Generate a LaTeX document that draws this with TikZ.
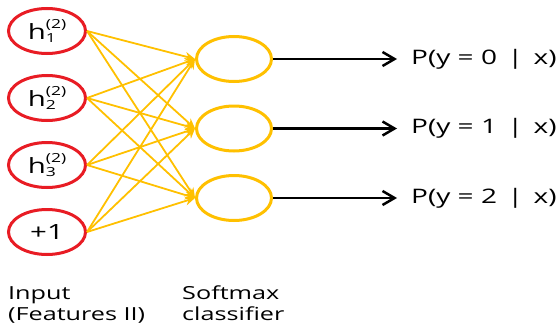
\documentclass[tikz,border=0pt]{standalone}
\usepackage{fontspec}
\setmainfont[FakeStretch=1.4]{Open Sans}
\usetikzlibrary{positioning, arrows.meta, shapes.geometric}
\definecolor{nodered}{RGB}{232,28,36}
\definecolor{softyellow}{RGB}{255,192,0}
\newcommand{\hunit}[1]{h\rlap{\raisebox{-3pt}{\fontsize{12.5}{12.5}\selectfont #1}}\raisebox{11.5pt}{\fontsize{12.5}{12.5}\selectfont (2)}}
\begin{document}
\begin{tikzpicture}[x=1pt, y=-1pt,
    inunit/.style={ellipse, draw=nodered, line width=3pt, minimum width=77pt, minimum height=45pt, inner sep=0pt, font=\fontsize{21}{21}\selectfont},
    outunit/.style={ellipse, draw=softyellow, line width=3pt, minimum width=75pt, minimum height=45pt, inner sep=0pt},
    weight/.style={draw=softyellow, line width=1.8pt, -{Stealth[length=10pt, width=9pt]}},
    result/.style={draw=black, line width=2.5pt, -{Straight Barb[length=12pt, width=14pt]}, shorten >=14pt},
    problabel/.style={inner sep=0pt, font=\fontsize{20}{20}\selectfont},
    caption/.style={align=left, inner sep=0pt, anchor=north west, font=\fontsize{18}{21}\selectfont}
]
\useasboundingbox (0,0) rectangle (556,329);

% input layer
\node[inunit] (i1) at (47,31) {\hunit{1}};
\node[inunit] (i2) [below = 19pt of i1] {\hunit{2}};
\node[inunit] (i3) [below = 19pt of i2] {\hunit{3}};
\node[inunit] (i4) [below = 19pt of i3] {+1};

% softmax layer
\node[outunit] (o1) at (234,59) {};
\node[outunit] (o2) [below = 21.5pt of o1] {};
\node[outunit] (o3) [below = 21.5pt of o2] {};

\node[problabel] (p1) [right = 138pt of o1] {P(y = 0 \,|\, x)};
\node[problabel] (p2) [right = 138pt of o2] {P(y = 1 \,|\, x)};
\node[problabel] (p3) [right = 138pt of o3] {P(y = 2 \,|\, x)};

\foreach \i in {1,...,4}
    \foreach \j in {1,2,3}
        \draw[weight] (i\i.east) -- (o\j.west);

\draw[result] (o1) -- (p1);
\draw[result] (o2) -- (p2);
\draw[result] (o3) -- (p3);

\node[caption] (cin) at (8,286) {Input\\(Features II)};
\node[caption] (cout) at (182,286) {Softmax\\classifier};
\end{tikzpicture}
\end{document}
